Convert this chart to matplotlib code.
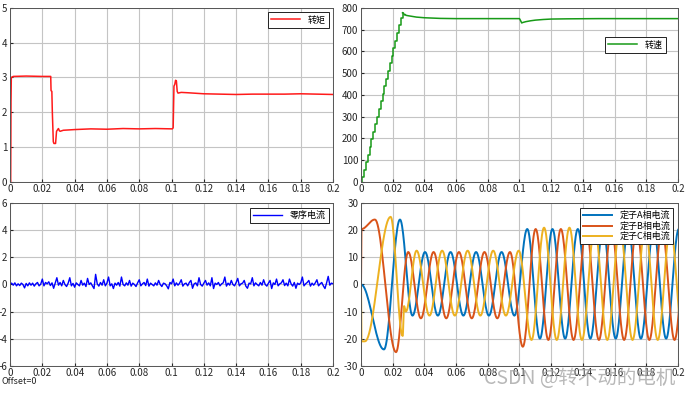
import numpy as np
import matplotlib
matplotlib.use('Agg')
import matplotlib.pyplot as plt

plt.rcParams['font.family'] = ['Noto Sans CJK SC', 'DejaVu Sans']
plt.rcParams['axes.unicode_minus'] = False

# ---- torque (转矩) ----
torque_t = [0, 0.0004, 0.0006, 0.0008, 0.002, 0.01, 0.02, 0.0252, 0.0254, 0.0259, 0.0262,
            0.0268, 0.0272, 0.0282, 0.0288, 0.0295, 0.030, 0.0305, 0.031, 0.033, 0.04, 0.05,
            0.06, 0.07, 0.08, 0.09, 0.1005, 0.101, 0.1015, 0.102, 0.1025, 0.103, 0.1035,
            0.104, 0.106, 0.11, 0.12, 0.13, 0.14, 0.15, 0.16, 0.17, 0.18, 0.19, 0.2]
torque_v = [0, 0, 2.3, 3.0, 3.03, 3.04, 3.03, 3.03, 2.62, 2.6, 2.0,
            1.15, 1.1, 1.1, 1.45, 1.5, 1.53, 1.47, 1.45, 1.48, 1.5, 1.52,
            1.51, 1.53, 1.52, 1.53, 1.52, 1.55, 2.75, 2.8, 2.92, 2.9, 2.6,
            2.55, 2.57, 2.56, 2.53, 2.52, 2.51, 2.52, 2.52, 2.52, 2.53, 2.52, 2.51]

# ---- speed (转速): staircase ramp then smooth tail ----
ramp_t = [0.0, 0.0008, 0.0020, 0.0031, 0.0043, 0.0054, 0.0066, 0.0078, 0.0089, 0.0101,
          0.0112, 0.0124, 0.0136, 0.0147, 0.0159, 0.0170, 0.0182, 0.0194, 0.0205, 0.0217,
          0.0228, 0.0240, 0.0252, 0.0262]
ramp_v = [0, 20, 55, 90, 125, 160, 195, 230, 265, 300,
          335, 370, 405, 440, 475, 510, 545, 580, 615, 650,
          685, 720, 755, 778]
tail_t = [0.0262, 0.0268, 0.0274, 0.0279, 0.0285, 0.030, 0.035, 0.04, 0.05, 0.06, 0.08,
          0.1, 0.1008, 0.1014, 0.102, 0.104, 0.107, 0.11, 0.115, 0.12, 0.13, 0.15, 0.2]
tail_v = [778, 776, 768, 770, 766, 764, 758, 755, 752, 751, 751,
          751, 740, 731, 733, 737, 741, 744, 747, 749, 750, 751, 751]

# ---- zero sequence current (零序电流), one value every 1 ms ----
zero_v = [0.0, 0.1, -0.05, 0.12, -0.1, 0.05, -0.08, 0.1, 0.0, -0.25,
          0.08, -0.1, 0.12, -0.05, 0.1, -0.12, 0.05, 0.15, -0.1, 0.02,
          0.4, -0.1, 0.15, 0.05, 0.2, -0.08, 0.12, -0.28, 0.1, 0.5,
          -0.05, 0.15, -0.1, 0.3, 0.0, -0.15, 0.1, 0.5, -0.1, 0.08,
          -0.2, 0.12, 0.0, -0.1, 0.3, -0.05, 0.1, -0.15, 0.45, 0.0,
          0.12, -0.1, -0.3, 0.75, 0.05, -0.12, 0.15, -0.05, 0.35, -0.1,
          0.1, 0.55, -0.1, 0.05, -0.3, 0.1, -0.05, 0.15, -0.12, 0.55,
          0.0, -0.1, 0.12, -0.05, 0.3, -0.12, 0.1, 0.0, -0.15, 0.12,
          0.35, -0.1, 0.05, 0.15, -0.08, 0.4, -0.12, 0.1, 0.0, -0.1,
          0.12, -0.05, 0.3, 0.0, -0.15, 0.1, 0.05, -0.1, -0.32, 0.15,
          0.05, 0.4, -0.1, 0.12, -0.05, 0.1, 0.35, -0.12, 0.05, 0.1,
          -0.1, 0.15, 0.3, -0.28, 0.05, 0.12, -0.1, 0.5, 0.0, -0.12,
          0.1, 0.3, -0.05, 0.12, -0.1, 0.5, -0.3, 0.1, 0.0, 0.15,
          -0.1, 0.05, 0.12, 0.55, -0.12, 0.1, -0.05, 0.3, 0.0, -0.1,
          0.15, 0.45, -0.1, 0.05, 0.1, 0.3, -0.12, -0.28, 0.1, 0.05,
          0.5, -0.1, 0.12, 0.0, -0.1, 0.15, -0.05, 0.35, 0.0, -0.12,
          0.1, 0.3, -0.3, 0.12, 0.0, 0.4, -0.1, 0.05, 0.12, 0.35,
          -0.08, 0.1, -0.1, 0.4, 0.05, -0.12, 0.15, -0.28, 0.1, 0.0,
          0.12, 0.55, -0.1, 0.05, 0.15, 0.3, -0.12, 0.1, -0.05, 0.12,
          0.35, -0.1, 0.05, 0.15, -0.1, -0.3, 0.12, 0.6, -0.05, 0.1,
          0.05]
zero_t = np.linspace(0, 0.2, len(zero_v))

# ---- stator phase currents: extrema (time, value) ----
ia_t = [0, 0.0145, 0.0246, 0.0325, 0.0404, 0.0485, 0.0565, 0.0646, 0.0726, 0.0807,
        0.0887, 0.0968, 0.1049, 0.1129, 0.1208, 0.1288, 0.1368, 0.1447, 0.1527, 0.1607,
        0.1686, 0.1766, 0.1846, 0.1925, 0.2005]
ia_v = [0, -24, 24, -11.5, 12, -11.5, 12, -11.5, 12, -11.5,
        12, -11.5, 20.5, -20, 20.5, -20, 20.5, -20, 20.5, -20,
        20.5, -20, 20.5, -20, 20.5]
ib_t = [0, 0.0003, 0.0088, 0.0221, 0.0298, 0.0378, 0.0458, 0.0538, 0.0618, 0.0699,
        0.0779, 0.0860, 0.0940, 0.1021, 0.1102, 0.1182, 0.1261, 0.1341, 0.1421, 0.1501,
        0.1580, 0.1660, 0.1739, 0.1819, 0.1899, 0.1978, 0.2058]
ib_v = [0, 20.5, 24, -25, 12, -12.5, 12, -12.5, 12, -12.5,
        12, -12.5, 12, -23, 20.5, -20.5, 20.5, -20.5, 20.5, -20.5,
        20.5, -20.5, 20.5, -20.5, 20.5, -20.5, 20.5]
ic_t = [0, 0.0003, 0.0025, 0.0187, 0.0263, 0.0272, 0.0283, 0.0351, 0.0432, 0.0512,
        0.0592, 0.0673, 0.0753, 0.0834, 0.0914, 0.0995, 0.1076, 0.1155, 0.1235, 0.1315,
        0.1394, 0.1474, 0.1554, 0.1633, 0.1713, 0.1793, 0.1872, 0.1952, 0.2032]
ic_v = [0, -21, -21, 25, -19, -8, -10, 12.5, -11.5, 12.5,
        -11.5, 12.5, -11.5, 12.5, -11.5, 12.5, -20.5, 21, -20.5, 21,
        -20.5, 21, -20.5, 21, -20.5, 21, -20.5, 21, -20.5]

xticks = [0, 0.02, 0.04, 0.06, 0.08, 0.1, 0.12, 0.14, 0.16, 0.18, 0.2]
xtick_labels = ['0', '0.02', '0.04', '0.06', '0.08', '0.1', '0.12', '0.14', '0.16', '0.18', '0.2']


def smooth_wave(ts, vs, n=24):
    # join consecutive extrema with half cosine arcs
    xs, ys = [], []
    for k in range(len(ts) - 1):
        s = np.linspace(0, 1, n, endpoint=False)
        xs.append(ts[k] + (ts[k + 1] - ts[k]) * s)
        ys.append(vs[k] + (vs[k + 1] - vs[k]) * (1 - np.cos(np.pi * s)) / 2)
    xs.append([ts[-1]])
    ys.append([vs[-1]])
    return np.concatenate(xs), np.concatenate(ys)


def style_axes(ax, ylim, yticks):
    ax.set_xlim(0, 0.2)
    ax.set_ylim(*ylim)
    ax.set_xticks(xticks)
    ax.set_xticklabels(xtick_labels)
    ax.set_yticks(yticks)
    ax.grid(True, color='#c4c4c4', linewidth=0.8)
    ax.set_axisbelow(True)
    ax.tick_params(direction='in', length=2.5, labelsize=7, colors='#262626', pad=2)
    for sp in ax.spines.values():
        sp.set_color('#555555')
        sp.set_linewidth(0.7)


def add_legend(ax, **kw):
    leg = ax.legend(fontsize=6.5, fancybox=False, framealpha=1, edgecolor='#222222',
                    handlelength=3.2, borderpad=0.35, labelspacing=0.15, **kw)
    leg.get_frame().set_linewidth(0.7)
    return leg


fig = plt.figure(figsize=(6.91, 3.93), dpi=100)
ax1 = fig.add_axes([0.0145, 0.5377, 0.4675, 0.442])
ax2 = fig.add_axes([0.5224, 0.5377, 0.4588, 0.442])
ax3 = fig.add_axes([0.0145, 0.0695, 0.4675, 0.4132])
ax4 = fig.add_axes([0.5224, 0.0695, 0.4588, 0.4132])

ax1.plot(torque_t, torque_v, color='#ff1a1a', linewidth=1.1, label='转矩')
style_axes(ax1, (0, 5), [0, 1, 2, 3, 4, 5])
add_legend(ax1, loc='upper right')

ax2.plot(ramp_t, ramp_v, color='#179a17', linewidth=1.1, drawstyle='steps-post', label='转速')
ax2.plot(tail_t, tail_v, color='#179a17', linewidth=1.1)
style_axes(ax2, (0, 800), [0, 100, 200, 300, 400, 500, 600, 700, 800])
add_legend(ax2, loc='center right', bbox_to_anchor=(0.975, 0.787))

ax3.plot(zero_t, zero_v, color='#0000ff', linewidth=1.0, label='零序电流')
style_axes(ax3, (-6, 6), [-6, -4, -2, 0, 2, 4, 6])
add_legend(ax3, loc='upper right')

for ts, vs, c, lab in [(ia_t, ia_v, '#0072bd', '定子A相电流'),
                       (ib_t, ib_v, '#d95319', '定子B相电流'),
                       (ic_t, ic_v, '#edb120', '定子C相电流')]:
    x, y = smooth_wave(ts, vs)
    ax4.plot(x, y, color=c, linewidth=1.4, label=lab)
style_axes(ax4, (-30, 30), [-30, -20, -10, 0, 10, 20, 30])
add_legend(ax4, loc='upper right')

fig.text(0.002, 0.022, 'Offset=0', fontsize=6.5, color='#262626')
fig.text(0.70, 0.022, 'CSDN @转不动的电机', fontsize=14, color='#a0a0a0', alpha=0.75)

fig.savefig('out.png', dpi=100)
